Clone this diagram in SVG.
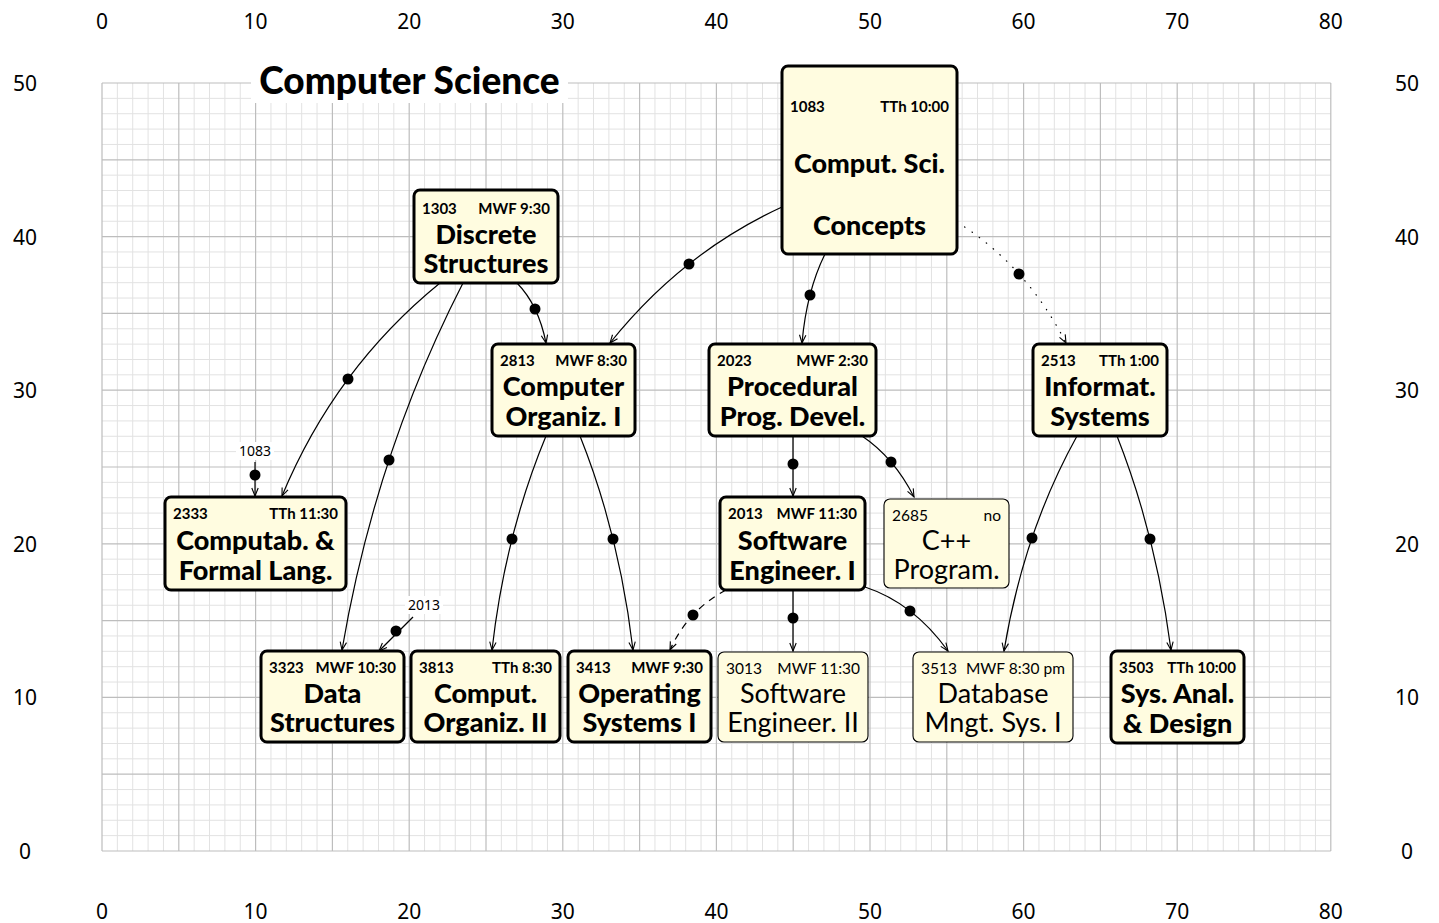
<svg xmlns="http://www.w3.org/2000/svg" width="1439" height="923" viewBox="0 0 1439 923">
<defs>
<style>
.minor{stroke:#e2e2e2;stroke-width:1;fill:none}
.major{stroke:#bdbdbd;stroke-width:1.2;fill:none}
.ax{font-family:"Noto Sans","Open Sans",sans-serif;font-size:21px;fill:#000;text-anchor:middle}
.box{fill:#fffce0;stroke:#000;stroke-width:3}
.tbox{fill:#fffce0;stroke:#000;stroke-width:1.1}
.hd{font-family:Lato,"Noto Sans",sans-serif;font-weight:bold;font-size:15px;fill:#000}
.hdt{font-family:Lato,"Noto Sans",sans-serif;font-size:15.5px;fill:#000}
.mt{font-family:Lato,"Noto Sans",sans-serif;font-weight:900;font-size:27px;fill:#000;text-anchor:middle}
.mtt{font-family:Lato,"Noto Sans",sans-serif;font-size:27px;fill:#000;text-anchor:middle}
.r{text-anchor:end}
.c{fill:none;stroke:#000;stroke-width:1.2;marker-end:url(#ah)}
.dot{fill:#000}
.lbl{font-family:"Noto Sans","Open Sans",sans-serif;font-size:14px;fill:#000;text-anchor:middle}
</style>
<marker id="ah" markerUnits="userSpaceOnUse" markerWidth="12" markerHeight="10" refX="0" refY="0" viewBox="-10 -5 12 10" orient="auto" overflow="visible">
<path d="M-8,-3.2 L0,0 L-8,3.2" fill="none" stroke="#000" stroke-width="1.1" stroke-dasharray="none"/>
</marker>
</defs>
<rect width="1439" height="923" fill="#fff"/>
<g id="grid">
<g transform="translate(102,83) scale(15.36)">
<path class="minor" vector-effect="non-scaling-stroke" d="M1 0V50M2 0V50M3 0V50M4 0V50M6 0V50M7 0V50M8 0V50M9 0V50M11 0V50M12 0V50M13 0V50M14 0V50M16 0V50M17 0V50M18 0V50M19 0V50M21 0V50M22 0V50M23 0V50M24 0V50M26 0V50M27 0V50M28 0V50M29 0V50M31 0V50M32 0V50M33 0V50M34 0V50M36 0V50M37 0V50M38 0V50M39 0V50M41 0V50M42 0V50M43 0V50M44 0V50M46 0V50M47 0V50M48 0V50M49 0V50M51 0V50M52 0V50M53 0V50M54 0V50M56 0V50M57 0V50M58 0V50M59 0V50M61 0V50M62 0V50M63 0V50M64 0V50M66 0V50M67 0V50M68 0V50M69 0V50M71 0V50M72 0V50M73 0V50M74 0V50M76 0V50M77 0V50M78 0V50M79 0V50M0 1H80M0 2H80M0 3H80M0 4H80M0 6H80M0 7H80M0 8H80M0 9H80M0 11H80M0 12H80M0 13H80M0 14H80M0 16H80M0 17H80M0 18H80M0 19H80M0 21H80M0 22H80M0 23H80M0 24H80M0 26H80M0 27H80M0 28H80M0 29H80M0 31H80M0 32H80M0 33H80M0 34H80M0 36H80M0 37H80M0 38H80M0 39H80M0 41H80M0 42H80M0 43H80M0 44H80M0 46H80M0 47H80M0 48H80M0 49H80"/>
<path class="major" vector-effect="non-scaling-stroke" d="M0 0V50M5 0V50M10 0V50M15 0V50M20 0V50M25 0V50M30 0V50M35 0V50M40 0V50M45 0V50M50 0V50M55 0V50M60 0V50M65 0V50M70 0V50M75 0V50M80 0V50M0 0H80M0 5H80M0 10H80M0 15H80M0 20H80M0 25H80M0 30H80M0 35H80M0 40H80M0 45H80M0 50H80"/>
</g>
</g>
<g id="axes">
<text class="ax" x="102" y="29">0</text><text class="ax" x="255.6" y="29">10</text><text class="ax" x="409.2" y="29">20</text><text class="ax" x="562.8" y="29">30</text><text class="ax" x="716.4" y="29">40</text><text class="ax" x="870" y="29">50</text><text class="ax" x="1023.6" y="29">60</text><text class="ax" x="1177.2" y="29">70</text><text class="ax" x="1330.8" y="29">80</text>
<text class="ax" x="102" y="919">0</text><text class="ax" x="255.6" y="919">10</text><text class="ax" x="409.2" y="919">20</text><text class="ax" x="562.8" y="919">30</text><text class="ax" x="716.4" y="919">40</text><text class="ax" x="870" y="919">50</text><text class="ax" x="1023.6" y="919">60</text><text class="ax" x="1177.2" y="919">70</text><text class="ax" x="1330.8" y="919">80</text>
<text class="ax" x="25" y="91">50</text><text class="ax" x="25" y="244.6">40</text><text class="ax" x="25" y="398.2">30</text><text class="ax" x="25" y="551.8">20</text><text class="ax" x="25" y="705.4">10</text><text class="ax" x="25" y="859">0</text>
<text class="ax" x="1407" y="91">50</text><text class="ax" x="1407" y="244.6">40</text><text class="ax" x="1407" y="398.2">30</text><text class="ax" x="1407" y="551.8">20</text><text class="ax" x="1407" y="705.4">10</text><text class="ax" x="1407" y="859">0</text>
</g>
<g id="title">
<rect x="251" y="60" width="317" height="43" fill="#fff"/>
<text x="409.5" y="94" font-family="Lato,'Noto Sans',sans-serif" font-weight="900" font-size="37" text-anchor="middle">Computer Science</text>
</g>
<g id="connectors">
<path class="c" d="M782,207 Q682,253 610,343"/><circle class="dot" cx="689" cy="264" r="5.5"/>
<path class="c" d="M825,254 Q806.5,291.5 802,343"/><circle class="dot" cx="810" cy="295" r="5.5"/>
<path class="c" stroke-dasharray="0.5 8.5" stroke-linecap="round" stroke-width="2" d="M957,222 Q1026.5,265.5 1066,343"/><circle class="dot" cx="1019" cy="274" r="5.5"/>
<path class="c" d="M440,283 Q335,368.5 282,496"/><circle class="dot" cx="348" cy="379" r="5.5"/>
<path class="c" d="M463,283 Q375.5,453.5 342,650"/><circle class="dot" cx="389" cy="460" r="5.5"/>
<path class="c" d="M517,283 Q538.5,305 546,343"/><circle class="dot" cx="535" cy="309" r="5.5"/>
<path class="c" d="M546,436 Q505,535 492,650"/><circle class="dot" cx="512" cy="539" r="5.5"/>
<path class="c" d="M580,436 Q619.5,535 633,650"/><circle class="dot" cx="613" cy="539" r="5.5"/>
<path class="c" d="M793,436 L793,496"/><circle class="dot" cx="793" cy="464" r="5.5"/>
<path class="c" d="M862,436 Q894,457.5 914,497"/><circle class="dot" cx="891" cy="462" r="5.5"/>
<path class="c" d="M793,590 L793,651"/><circle class="dot" cx="793" cy="618" r="5.5"/>
<path class="c" d="M865,587 Q913.5,603 948,651"/><circle class="dot" cx="910" cy="611" r="5.5"/>
<path class="c" stroke-dasharray="7 6" d="M726,590 Q688,610 670,650"/><circle class="dot" cx="693" cy="615" r="5.5"/>
<path class="c" d="M1077,436 Q1023.5,532.5 1004,651"/><circle class="dot" cx="1032" cy="538" r="5.5"/>
<path class="c" d="M1117,436 Q1156,535 1171,650"/><circle class="dot" cx="1150" cy="539" r="5.5"/>
<path class="c" d="M255,462 L255,496"/><circle class="dot" cx="255" cy="475" r="5.5"/>
<rect x="236" y="442" width="38" height="18" fill="#fff"/><text class="lbl" x="255" y="456">1083</text>
<path class="c" d="M413,617 L379,651"/><circle class="dot" cx="396" cy="631" r="5.5"/>
<rect x="405" y="596" width="38" height="18" fill="#fff"/><text class="lbl" x="424" y="610">2013</text>
</g>
<g id="n1083">
<rect class="box" x="782" y="66" width="175" height="188" rx="6"/>
<text class="hd" x="790" y="112">1083</text><text class="hd r" x="949" y="112">TTh 10:00</text>
<text class="mt" x="869.5" y="173">Comput. Sci.</text><text class="mt" x="869.5" y="235">Concepts</text>
</g>
<g id="n1303">
<rect class="box" x="414" y="190" width="144" height="93" rx="6"/>
<text class="hd" x="422" y="214">1303</text><text class="hd r" x="550" y="214">MWF 9:30</text>
<text class="mt" x="486" y="244">Discrete</text><text class="mt" x="486" y="273">Structures</text>
</g>
<g id="n2813">
<rect class="box" x="492" y="344" width="143" height="92" rx="6"/>
<text class="hd" x="500" y="366">2813</text><text class="hd r" x="627" y="366">MWF 8:30</text>
<text class="mt" x="563.5" y="396">Computer</text><text class="mt" x="563.5" y="426">Organiz. I</text>
</g>
<g id="n2023">
<rect class="box" x="709" y="344" width="167" height="92" rx="6"/>
<text class="hd" x="717" y="366">2023</text><text class="hd r" x="868" y="366">MWF 2:30</text>
<text class="mt" x="792.5" y="396">Procedural</text><text class="mt" x="792.5" y="426">Prog. Devel.</text>
</g>
<g id="n2513">
<rect class="box" x="1033" y="344" width="134" height="92" rx="6"/>
<text class="hd" x="1041" y="366">2513</text><text class="hd r" x="1159" y="366">TTh 1:00</text>
<text class="mt" x="1100" y="396">Informat.</text><text class="mt" x="1100" y="426">Systems</text>
</g>
<g id="n2333">
<rect class="box" x="165" y="497" width="181" height="93" rx="6"/>
<text class="hd" x="173" y="519">2333</text><text class="hd r" x="338" y="519">TTh 11:30</text>
<text class="mt" x="255.5" y="550">Computab. &amp;</text><text class="mt" x="255.5" y="580">Formal Lang.</text>
</g>
<g id="n2013">
<rect class="box" x="720" y="497" width="145" height="93" rx="6"/>
<text class="hd" x="728" y="519">2013</text><text class="hd r" x="857" y="519">MWF 11:30</text>
<text class="mt" x="792.5" y="550">Software</text><text class="mt" x="792.5" y="580">Engineer. I</text>
</g>
<g id="n2685">
<rect class="tbox" x="884" y="499" width="125" height="89" rx="6"/>
<text class="hdt" x="892" y="521">2685</text><text class="hdt r" x="1001" y="521">no</text>
<text class="mtt" x="946.5" y="550">C++</text><text class="mtt" x="946.5" y="579">Program.</text>
</g>
<g id="n3323">
<rect class="box" x="261" y="651" width="143" height="91" rx="6"/>
<text class="hd" x="269" y="673">3323</text><text class="hd r" x="396" y="673">MWF 10:30</text>
<text class="mt" x="332.5" y="703">Data</text><text class="mt" x="332.5" y="732">Structures</text>
</g>
<g id="n3813">
<rect class="box" x="411" y="651" width="149" height="91" rx="6"/>
<text class="hd" x="419" y="673">3813</text><text class="hd r" x="552" y="673">TTh 8:30</text>
<text class="mt" x="485.5" y="703">Comput.</text><text class="mt" x="485.5" y="732">Organiz. II</text>
</g>
<g id="n3413">
<rect class="box" x="568" y="651" width="143" height="91" rx="6"/>
<text class="hd" x="576" y="673">3413</text><text class="hd r" x="703" y="673">MWF 9:30</text>
<text class="mt" x="639.5" y="703">Operating</text><text class="mt" x="639.5" y="732">Systems I</text>
</g>
<g id="n3013">
<rect class="tbox" x="718" y="652" width="150" height="90" rx="6"/>
<text class="hdt" x="726" y="674">3013</text><text class="hdt r" x="860" y="674">MWF 11:30</text>
<text class="mtt" x="793" y="703">Software</text><text class="mtt" x="793" y="732">Engineer. II</text>
</g>
<g id="n3513">
<rect class="tbox" x="913" y="652" width="160" height="90" rx="6"/>
<text class="hdt" x="921" y="674">3513</text><text class="hdt r" x="1065" y="674">MWF 8:30 pm</text>
<text class="mtt" x="993" y="703">Database</text><text class="mtt" x="993" y="732">Mngt. Sys. I</text>
</g>
<g id="n3503">
<rect class="box" x="1111" y="651" width="133" height="92" rx="6"/>
<text class="hd" x="1119" y="673">3503</text><text class="hd r" x="1236" y="673">TTh 10:00</text>
<text class="mt" x="1177.5" y="703">Sys. Anal.</text><text class="mt" x="1177.5" y="733">&amp; Design</text>
</g>
</svg>
